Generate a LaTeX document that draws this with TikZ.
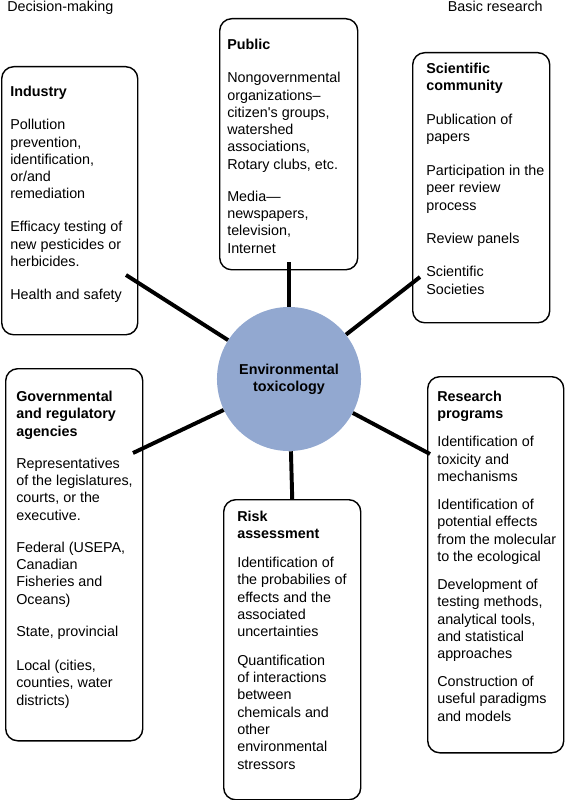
\documentclass[tikz,border=0pt]{standalone}
\usepackage{fontspec}
\setmainfont{Liberation Sans}
\definecolor{envblue}{RGB}{146,168,208}
\tikzset{
  panel/.style={draw=black, rounded corners=0.3cm, line width=1pt, anchor=north west, inner sep=0},
  paneltext/.style={anchor=north west, inner sep=0, align=left, font=\fontsize{10.2}{12.3}\selectfont},
  link/.style={line width=2.8pt},
  side/.style={inner sep=0, font=\fontsize{10.2}{12.3}\selectfont}
}
\begin{document}
\begin{tikzpicture}[x=0.025cm, y=-0.025cm]
    \useasboundingbox (0,0) rectangle (564,800);
    \node[side, anchor=north west] (decision) at (7,1) {Decision-making};
    \node[side, anchor=north east] (basic) at (543,1) {Basic research};
    \node[panel, minimum width=3.4cm, minimum height=6.7cm] (ind) at (1,66) {};
    \node[panel, minimum width=3.45cm, minimum height=6.275cm] (pub) at (219,18) {};
    \node[panel, minimum width=3.425cm, minimum height=6.75cm] (sci) at (412,52) {};
    \node[panel, minimum width=3.425cm, minimum height=9.3cm] (gov) at (5,368) {};
    \node[panel, minimum width=3.425cm, minimum height=7.5cm] (risk) at (223,499) {};
    \node[panel, minimum width=3.4cm, minimum height=9.4cm] (res) at (427,376) {};
    \coordinate (indend) at (126,275);
    \coordinate (pubend) at (289,262);
    \coordinate (sciend) at (420,277);
    \coordinate (govend) at (133,453);
    \coordinate (resend) at (430,454);
    \node[circle, fill=envblue, minimum size=3.6cm, inner sep=0, align=center,
      font=\fontsize{10.2}{12.05}\selectfont\bfseries] (env) at (289,379) {Environmental\\toxicology};
    \draw[link] (indend) -- (env);
    \draw[link] (pubend) -- (env);
    \draw[link] (sciend) -- (env);
    \draw[link] (govend) -- (env);
    \draw[link] (risk.north) -- (env);
    \draw[link] (resend) -- (env);
    \node[paneltext] (indtext) at (10,86) {\textbf{Industry}\\[11.2pt]
      Pollution\\prevention,\\identification,\\or/and\\remediation\\[11.2pt]
      Efficacy testing of\\new pesticides or\\herbicides.\\[11.2pt]
      Health and safety};
    \node[paneltext] (pubtext) at (227,39) {\textbf{Public}\\[11.2pt]
      Nongovernmental\\organizations–\\citizen\textquotesingle s groups,\\watershed\\associations,\\Rotary clubs, etc.\\[10.5pt]
      Media—\\newspapers,\\television,\\Internet};
    \node[paneltext] (scitext) at (426,63) {\textbf{Scientific}\\\textbf{community}\\[11.6pt]
      Publication of\\papers\\[11.6pt]
      Participation in the\\peer review\\process\\[11.2pt]
      Review panels\\[11.6pt]
      Scientific\\Societies};
    \node[paneltext] (govtext) at (16,391) {\textbf{Governmental}\\\textbf{and regulatory}\\\textbf{agencies}\\[10.5pt]
      Representatives\\of the legislatures,\\courts, or the\\executive.\\[10.5pt]
      Federal (USEPA,\\Canadian\\Fisheries and\\Oceans)\\[10.5pt]
      State, provincial\\[12pt]
      Local (cities,\\counties, water\\districts)};
    \node[paneltext] (risktext) at (237,511) {\textbf{Risk}\\\textbf{assessment}\\[8pt]
      Identification of\\the probabilies of\\effects and the\\associated\\uncertainties\\[8pt]
      Quantification\\of interactions\\between\\chemicals and\\other\\environmental\\stressors};
    \node[paneltext] (restext) at (437,391) {\textbf{Research}\\\textbf{programs}\\[7.6pt]
      Identification of\\toxicity and\\mechanisms\\[7.6pt]
      Identification of\\potential effects\\from the molecular\\to the ecological\\[7.6pt]
      Development of\\testing methods,\\analytical tools,\\and statistical\\approaches\\[7.6pt]
      Construction of\\useful paradigms\\and models};
  \end{tikzpicture}
\end{document}
